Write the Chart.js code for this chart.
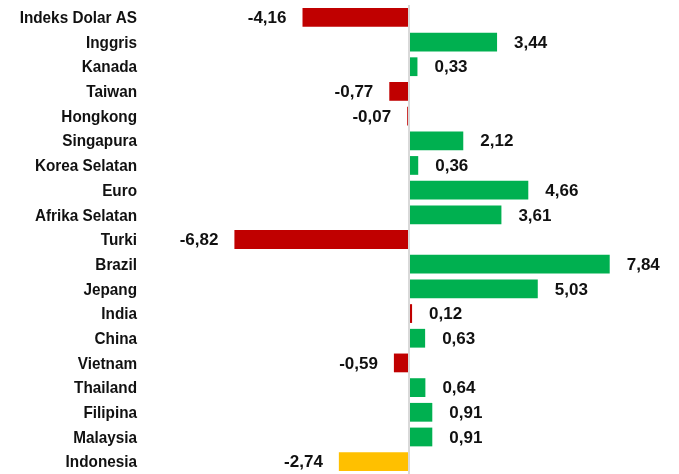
<!DOCTYPE html>
<html>
<head>
<meta charset="utf-8">
<script src="https://cdn.jsdelivr.net/npm/chart.js@4"></script>
<style>
  html, body { margin: 0; padding: 0; background: #fff; }
  #wrap { width: 679px; height: 474px; position: relative; }
</style>
</head>
<body>
<div id="wrap"><canvas id="grafico"></canvas></div>
<script>
// Data
const negara = ['Indeks Dolar AS', 'Inggris', 'Kanada', 'Taiwan', 'Hongkong', 'Singapura',
  'Korea Selatan', 'Euro', 'Afrika Selatan', 'Turki', 'Brazil', 'Jepang', 'India', 'China',
  'Vietnam', 'Thailand', 'Filipina', 'Malaysia', 'Indonesia'];
const perubahan = [-4.16, 3.44, 0.33, -0.77, -0.07, 2.12, 0.36, 4.66, 3.61, -6.82, 7.84,
  5.03, 0.12, 0.63, -0.59, 0.64, 0.91, 0.91, -2.74];
const warna = ['#C00000', '#00B050', '#00B050', '#C00000', '#C00000', '#00B050', '#00B050',
  '#00B050', '#00B050', '#C00000', '#00B050', '#00B050', '#C00000', '#00B050', '#C00000',
  '#00B050', '#00B050', '#00B050', '#FFC000'];

const fonte = '"Liberation Sans", Arial, sans-serif';

// Nomes das categorias (fonte estreita simulada) + rótulos de valor
const rotulos = {
  id: 'rotulos',
  afterDatasetsDraw(chart) {
    const ctx = chart.ctx;
    const y = chart.scales.y;
    ctx.save();
    ctx.fillStyle = '#111';
    ctx.textBaseline = 'middle';

    // categorias
    ctx.font = 'bold 17px ' + fonte;
    ctx.textAlign = 'right';
    y.ticks.forEach((t, i) => {
      ctx.save();
      ctx.translate(y.right - 16, y.getPixelForTick(i) + 1);
      ctx.scale(0.9, 1);
      ctx.fillText(y.getLabelForValue(t.value), 0, 0);
      ctx.restore();
    });

    // valores
    const meta = chart.getDatasetMeta(0);
    ctx.font = 'bold 17px ' + fonte;
    meta.data.forEach((bar, i) => {
      const v = perubahan[i];
      const txt = v.toFixed(2).replace('.', ',');
      if (v >= 0) {
        ctx.textAlign = 'left';
        ctx.fillText(txt, bar.x + 17, bar.y + 1);
      } else {
        ctx.textAlign = 'right';
        ctx.fillText(txt, bar.x - 16, bar.y + 1);
      }
    });
    ctx.restore();
  }
};

new Chart(document.getElementById('grafico'), {
  type: 'bar',
  data: {
    labels: negara,
    datasets: [{
      data: perubahan,
      backgroundColor: warna,
      barPercentage: 0.76,
      categoryPercentage: 1
    }]
  },
  options: {
    indexAxis: 'y',
    responsive: true,
    maintainAspectRatio: false,
    animation: false,
    layout: { padding: { top: 5, right: 14, bottom: 0, left: 0 } },
    plugins: { legend: { display: false }, tooltip: { enabled: false } },
    scales: {
      x: {
        min: -10,
        max: 10,
        ticks: { display: false, stepSize: 10 },
        border: { display: false },
        grid: {
          drawTicks: false,
          lineWidth: 2,
          color: c => c.tick && c.tick.value === 0 ? '#D9D9D9' : 'rgba(0,0,0,0)'
        },
        afterFit: s => { s.height = 0; s.paddingLeft = 0; s.paddingRight = 0; }
      },
      y: {
        border: { display: false },
        grid: { display: false, drawTicks: false },
        ticks: { display: false, autoSkip: false },
        afterFit: s => { s.width = 153; s.paddingTop = 0; s.paddingBottom = 0; }
      }
    }
  },
  plugins: [rotulos]
});
</script>
</body>
</html>
